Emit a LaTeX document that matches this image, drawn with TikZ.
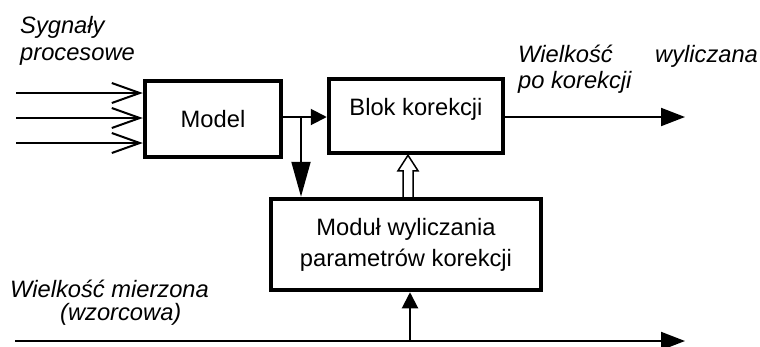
\documentclass[tikz,border=0pt]{standalone}
\usepackage{fontspec}
\setmainfont{Liberation Sans}
\usetikzlibrary{arrows.meta,calc}
\begin{document}
\begin{tikzpicture}[x=1pt,y=-1pt,
  blockbox/.style={draw,line width=4.5pt,rectangle,inner sep=0pt,font=\fontsize{23.7}{31}\selectfont,align=center},
  lbl/.style={font=\fontsize{23.7}{28}\selectfont\itshape,anchor=base west,inner sep=0pt},
  thin/.style={line width=2pt},
  openhead/.style={thin,-{Straight Barb[length=28pt,width=20pt,line width=2pt]}},
  fillhead/.style={thin,-{Triangle[length=16pt,width=16pt]}},
]
\useasboundingbox (0,0) rectangle (760,346);
\node[blockbox,minimum width=136pt,minimum height=76pt] (model) at (213,119) {Model};
\node[blockbox,minimum width=174pt,minimum height=74pt,text height=17pt,text depth=19pt] (blok) at (416,116) {Blok korekcji};
\node[blockbox,minimum width=270pt,minimum height=91pt] (modul) at (406,244.5) {Moduł wyliczania\\parametrów korekcji};

% inputs
\coordinate (i1) at (16,93);
\coordinate (i2) at (16,118);
\coordinate (i3) at (16,143);
\draw[openhead] (i1) -- (i1 -| model.west);
\draw[openhead] (i2) -- (i2 -| model.west);
\draw[openhead] (i3) -- (i3 -| model.west);

% model -> blok
\coordinate (me) at (model.east |- 0,117);
\draw[fillhead] (me) -- (me -| blok.west);
\coordinate (br) at (301,117);
\draw[thin,-{Triangle[length=35pt,width=19pt]}] (br) -- (br |- modul.north);

% hollow arrow modul -> blok
\coordinate (hb) at ($(modul.north)+(2,0)$);
\coordinate (ht) at (hb |- blok.south);
\draw[line width=1.5pt,fill=white]
  ($(hb)+(-5,0)$) -- ($(hb)+(-5,-26)$) -- ($(hb)+(-10,-26)$) -- (ht)
  -- ($(hb)+(10,-26)$) -- ($(hb)+(5,-26)$) -- ($(hb)+(5,0)$);

% output
\coordinate (oe) at (blok.east |- 0,117);
\coordinate (oend) at (685,117);
\draw[thin,-{Triangle[length=24pt,width=18pt]}] (oe) -- (oend);

% bottom line
\coordinate (bs) at (15,341);
\coordinate (be) at (685,341);
\draw[thin,-{Triangle[length=24pt,width=18pt]}] (bs) -- (be);
\coordinate (bu) at (410,341);
\draw[fillhead] (bu) -- (bu |- modul.south);

% labels
\node[lbl] (s1) at (20,33) {Sygnały};
\node[lbl] (s2) at (20,60) {procesowe};
\node[lbl] (w1) at (518,62) {Wielkość};
\node[lbl] (w2) at (655,62) {wyliczana};
\node[lbl] (w3) at (518,88) {po korekcji};
\node[lbl] (m1) at (10,297) {Wielkość mierzona};
\node[lbl] (m2) at (60,320) {(wzorcowa)};
\end{tikzpicture}
\end{document}
